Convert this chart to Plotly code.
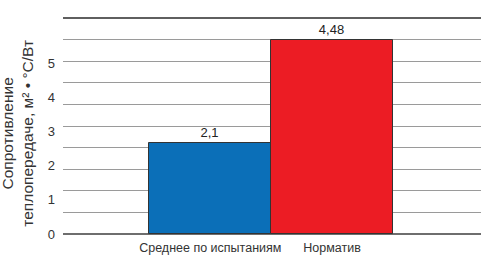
import plotly.graph_objects as go

categories = ["Среднее по испытаниям", "Норматив"]
values = [2.1, 4.48]
bar_colors = ["#0b6fb8", "#ec1c24"]
label_ticks = [0, 1, 2, 3, 4, 5]
y_title = "Сопротивление<br>теплопередаче, м² • °С/Вт"

fig = go.Figure()
fig.add_trace(go.Bar(
    x=[0, 1], y=values,
    marker=dict(color=bar_colors, line=dict(color="#333333", width=1)),
    texttemplate="%{y}", textposition="outside",
    textfont=dict(size=13, color="#222222"),
    cliponaxis=False, width=1, showlegend=False,
))
# invisible trace on the label axis
fig.add_trace(go.Scatter(x=[0], y=[0], yaxis="y2", mode="markers",
                         marker=dict(opacity=0), showlegend=False, hoverinfo="skip"))

fig.update_layout(
    width=500, height=263,
    margin=dict(l=63, r=19, t=18, b=29),
    paper_bgcolor="white", plot_bgcolor="white",
    separators=", ",
    font=dict(family="Liberation Sans, Arial, sans-serif", color="#333333"),
    bargap=0,
    xaxis=dict(
        range=[-1.21, 2.224], tickvals=[0, 1], ticktext=categories,
        showgrid=False, zeroline=False, showline=False, ticks="",
        ticklabelstandoff=4, automargin=False,
        tickfont=dict(size=12.5, color="#333333"), fixedrange=True,
    ),
    yaxis=dict(
        range=[0, 5], dtick=0.5, showticklabels=False,
        showgrid=True, gridcolor="#9a9a9a", gridwidth=1,
        zeroline=True, zerolinecolor="#6e6e6e", zerolinewidth=2,
        fixedrange=True, automargin=False,
    ),
    yaxis2=dict(
        overlaying="y", side="left", range=[0, 6.316],
        tickvals=label_ticks, ticktext=[str(v) for v in label_ticks],
        showgrid=False, zeroline=False, showline=False, ticks="",
        ticklabelstandoff=7, automargin=False,
        tickfont=dict(size=13, color="#333333"), fixedrange=True,
    ),
    shapes=[dict(type="line", xref="x domain", yref="y domain",
                 x0=0, x1=1, y0=1, y1=1, line=dict(color="#2a2a2a", width=1.5))],
    annotations=[dict(
        text=y_title, textangle=-90, xref="paper", yref="paper",
        x=-0.108, y=0.468, xanchor="center", yanchor="middle", showarrow=False,
        font=dict(size=15.5, color="#333333"),
    )],
)

fig.write_html("out.html")
